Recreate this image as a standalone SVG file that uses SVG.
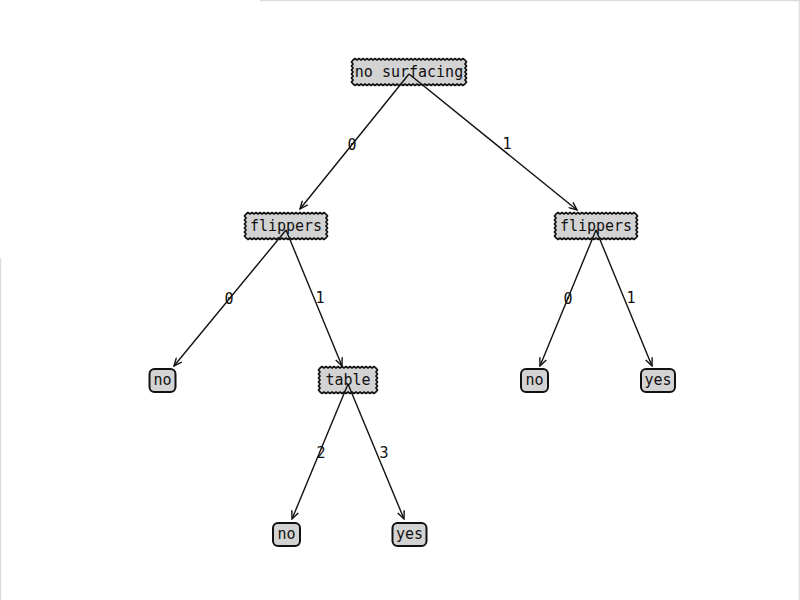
<svg xmlns="http://www.w3.org/2000/svg" width="800" height="600" viewBox="0 0 800 600">
<style>
text{font-family:"DejaVu Sans Mono","Liberation Mono",monospace;font-size:15px;fill:#111;text-anchor:middle}
.dec{fill:#d3d3d3;stroke:#111;stroke-width:1.7;stroke-linejoin:miter}
.leaf{fill:#d3d3d3;stroke:#111;stroke-width:2}
.edge{stroke:#111;stroke-width:1.4;fill:none;marker-end:url(#ah)}
.frame{stroke:#dcdcdc;stroke-width:1.2}
</style>
<defs>
<marker id="ah" viewBox="0 0 10 8" refX="9" refY="4" markerWidth="10" markerHeight="8" markerUnits="userSpaceOnUse" orient="auto">
<path d="M1,0.5 L9,4 L1,7.5" fill="none" stroke="#111" stroke-width="1.4"/>
</marker>
</defs>
<rect width="800" height="600" fill="#fff"/>
<g id="frame">
<line class="frame" x1="260" y1="0.6" x2="800" y2="0.6"/>
<line class="frame" x1="799.2" y1="0" x2="799.2" y2="600"/>
<line class="frame" x1="0.6" y1="258" x2="0.6" y2="600"/>
</g>
<g id="node-no-surfacing">
<path class="dec" d="M353,60 l2,-1.5 2,1.5 2,-1.5 2,1.5 2,-1.5 2,1.5 2,-1.5 2,1.5
2,-1.5 2,1.5 2,-1.5 2,1.5 2,-1.5 2,1.5 2,-1.5 2,1.5
2,-1.5 2,1.5 2,-1.5 2,1.5 2,-1.5 2,1.5 2,-1.5 2,1.5
2,-1.5 2,1.5 2,-1.5 2,1.5 2,-1.5 2,1.5 2,-1.5 2,1.5
2,-1.5 2,1.5 2,-1.5 2,1.5 2,-1.5 2,1.5 2,-1.5 2,1.5
2,-1.5 2,1.5 2,-1.5 2,1.5 2,-1.5 2,1.5 2,-1.5 2,1.5
2,-1.5 2,1.5 2,-1.5 2,1.5 2,-1.5 2,1.5 2,-1.5 2,1.5
l1.5,2 -1.5,2 1.5,2 -1.5,2 1.5,2 -1.5,2 1.5,2 -1.5,2 1.5,2 -1.5,2 1.5,2 -1.5,2
l-2,1.5 -2,-1.5 -2,1.5 -2,-1.5 -2,1.5 -2,-1.5 -2,1.5 -2,-1.5
-2,1.5 -2,-1.5 -2,1.5 -2,-1.5 -2,1.5 -2,-1.5 -2,1.5 -2,-1.5
-2,1.5 -2,-1.5 -2,1.5 -2,-1.5 -2,1.5 -2,-1.5 -2,1.5 -2,-1.5
-2,1.5 -2,-1.5 -2,1.5 -2,-1.5 -2,1.5 -2,-1.5 -2,1.5 -2,-1.5
-2,1.5 -2,-1.5 -2,1.5 -2,-1.5 -2,1.5 -2,-1.5 -2,1.5 -2,-1.5
-2,1.5 -2,-1.5 -2,1.5 -2,-1.5 -2,1.5 -2,-1.5 -2,1.5 -2,-1.5
-2,1.5 -2,-1.5 -2,1.5 -2,-1.5 -2,1.5 -2,-1.5 -2,1.5 -2,-1.5
l-1.5,-2 1.5,-2 -1.5,-2 1.5,-2 -1.5,-2 1.5,-2 -1.5,-2 1.5,-2 -1.5,-2 1.5,-2 -1.5,-2 1.5,-2 z"/>
<text x="409" y="77">no surfacing</text>
</g>
<g id="node-flippers-left">
<path class="dec" d="M246,214 l2,-1.5 2,1.5 2,-1.5 2,1.5 2,-1.5 2,1.5 2,-1.5 2,1.5
2,-1.5 2,1.5 2,-1.5 2,1.5 2,-1.5 2,1.5 2,-1.5 2,1.5
2,-1.5 2,1.5 2,-1.5 2,1.5 2,-1.5 2,1.5 2,-1.5 2,1.5
2,-1.5 2,1.5 2,-1.5 2,1.5 2,-1.5 2,1.5 2,-1.5 2,1.5
2,-1.5 2,1.5 2,-1.5 2,1.5 2,-1.5 2,1.5 2,-1.5 2,1.5
l1.5,2 -1.5,2 1.5,2 -1.5,2 1.5,2 -1.5,2 1.5,2 -1.5,2 1.5,2 -1.5,2 1.5,2 -1.5,2
l-2,1.5 -2,-1.5 -2,1.5 -2,-1.5 -2,1.5 -2,-1.5 -2,1.5 -2,-1.5
-2,1.5 -2,-1.5 -2,1.5 -2,-1.5 -2,1.5 -2,-1.5 -2,1.5 -2,-1.5
-2,1.5 -2,-1.5 -2,1.5 -2,-1.5 -2,1.5 -2,-1.5 -2,1.5 -2,-1.5
-2,1.5 -2,-1.5 -2,1.5 -2,-1.5 -2,1.5 -2,-1.5 -2,1.5 -2,-1.5
-2,1.5 -2,-1.5 -2,1.5 -2,-1.5 -2,1.5 -2,-1.5 -2,1.5 -2,-1.5
l-1.5,-2 1.5,-2 -1.5,-2 1.5,-2 -1.5,-2 1.5,-2 -1.5,-2 1.5,-2 -1.5,-2 1.5,-2 -1.5,-2 1.5,-2 z"/>
<text x="286" y="231">flippers</text>
</g>
<g id="node-flippers-right">
<path class="dec" d="M556,214 l2,-1.5 2,1.5 2,-1.5 2,1.5 2,-1.5 2,1.5 2,-1.5 2,1.5
2,-1.5 2,1.5 2,-1.5 2,1.5 2,-1.5 2,1.5 2,-1.5 2,1.5
2,-1.5 2,1.5 2,-1.5 2,1.5 2,-1.5 2,1.5 2,-1.5 2,1.5
2,-1.5 2,1.5 2,-1.5 2,1.5 2,-1.5 2,1.5 2,-1.5 2,1.5
2,-1.5 2,1.5 2,-1.5 2,1.5 2,-1.5 2,1.5 2,-1.5 2,1.5
l1.5,2 -1.5,2 1.5,2 -1.5,2 1.5,2 -1.5,2 1.5,2 -1.5,2 1.5,2 -1.5,2 1.5,2 -1.5,2
l-2,1.5 -2,-1.5 -2,1.5 -2,-1.5 -2,1.5 -2,-1.5 -2,1.5 -2,-1.5
-2,1.5 -2,-1.5 -2,1.5 -2,-1.5 -2,1.5 -2,-1.5 -2,1.5 -2,-1.5
-2,1.5 -2,-1.5 -2,1.5 -2,-1.5 -2,1.5 -2,-1.5 -2,1.5 -2,-1.5
-2,1.5 -2,-1.5 -2,1.5 -2,-1.5 -2,1.5 -2,-1.5 -2,1.5 -2,-1.5
-2,1.5 -2,-1.5 -2,1.5 -2,-1.5 -2,1.5 -2,-1.5 -2,1.5 -2,-1.5
l-1.5,-2 1.5,-2 -1.5,-2 1.5,-2 -1.5,-2 1.5,-2 -1.5,-2 1.5,-2 -1.5,-2 1.5,-2 -1.5,-2 1.5,-2 z"/>
<text x="596" y="231">flippers</text>
</g>
<g id="node-table">
<path class="dec" d="M320,368 l2,-1.5 2,1.5 2,-1.5 2,1.5 2,-1.5 2,1.5 2,-1.5 2,1.5
2,-1.5 2,1.5 2,-1.5 2,1.5 2,-1.5 2,1.5 2,-1.5 2,1.5
2,-1.5 2,1.5 2,-1.5 2,1.5 2,-1.5 2,1.5 2,-1.5 2,1.5
2,-1.5 2,1.5 2,-1.5 2,1.5
l1.5,2 -1.5,2 1.5,2 -1.5,2 1.5,2 -1.5,2 1.5,2 -1.5,2 1.5,2 -1.5,2 1.5,2 -1.5,2
l-2,1.5 -2,-1.5 -2,1.5 -2,-1.5 -2,1.5 -2,-1.5 -2,1.5 -2,-1.5
-2,1.5 -2,-1.5 -2,1.5 -2,-1.5 -2,1.5 -2,-1.5 -2,1.5 -2,-1.5
-2,1.5 -2,-1.5 -2,1.5 -2,-1.5 -2,1.5 -2,-1.5 -2,1.5 -2,-1.5
-2,1.5 -2,-1.5 -2,1.5 -2,-1.5
l-1.5,-2 1.5,-2 -1.5,-2 1.5,-2 -1.5,-2 1.5,-2 -1.5,-2 1.5,-2 -1.5,-2 1.5,-2 -1.5,-2 1.5,-2 z"/>
<text x="348" y="385">table</text>
</g>
<g id="leaf-no-1">
<rect class="leaf" x="149.5" y="369" width="26" height="23" rx="5"/>
<text x="162.5" y="385">no</text>
</g>
<g id="leaf-no-2">
<rect class="leaf" x="521" y="369" width="27" height="23" rx="5"/>
<text x="534.5" y="385">no</text>
</g>
<g id="leaf-yes-1">
<rect class="leaf" x="641" y="369" width="34" height="23" rx="5"/>
<text x="658" y="385">yes</text>
</g>
<g id="leaf-no-3">
<rect class="leaf" x="273" y="523" width="27" height="23" rx="5"/>
<text x="286.5" y="539">no</text>
</g>
<g id="leaf-yes-2">
<rect class="leaf" x="392.5" y="523" width="34" height="23" rx="5"/>
<text x="409.5" y="539">yes</text>
</g>
<g id="connectors">
<line class="edge" x1="409" y1="74" x2="300" y2="209"/>
<line class="edge" x1="409" y1="74" x2="577" y2="210"/>
<line class="edge" x1="286" y1="230" x2="174" y2="366"/>
<line class="edge" x1="286" y1="230" x2="342" y2="366"/>
<line class="edge" x1="596" y1="230" x2="540" y2="366"/>
<line class="edge" x1="596" y1="230" x2="652" y2="366"/>
<line class="edge" x1="348" y1="384" x2="292" y2="519"/>
<line class="edge" x1="348" y1="384" x2="404" y2="519"/>
<text x="352" y="150">0</text>
<text x="507" y="149">1</text>
<text x="229" y="304">0</text>
<text x="320" y="303">1</text>
<text x="568" y="304">0</text>
<text x="631" y="303">1</text>
<text x="321" y="458">2</text>
<text x="384" y="458">3</text>
</g>
</svg>
